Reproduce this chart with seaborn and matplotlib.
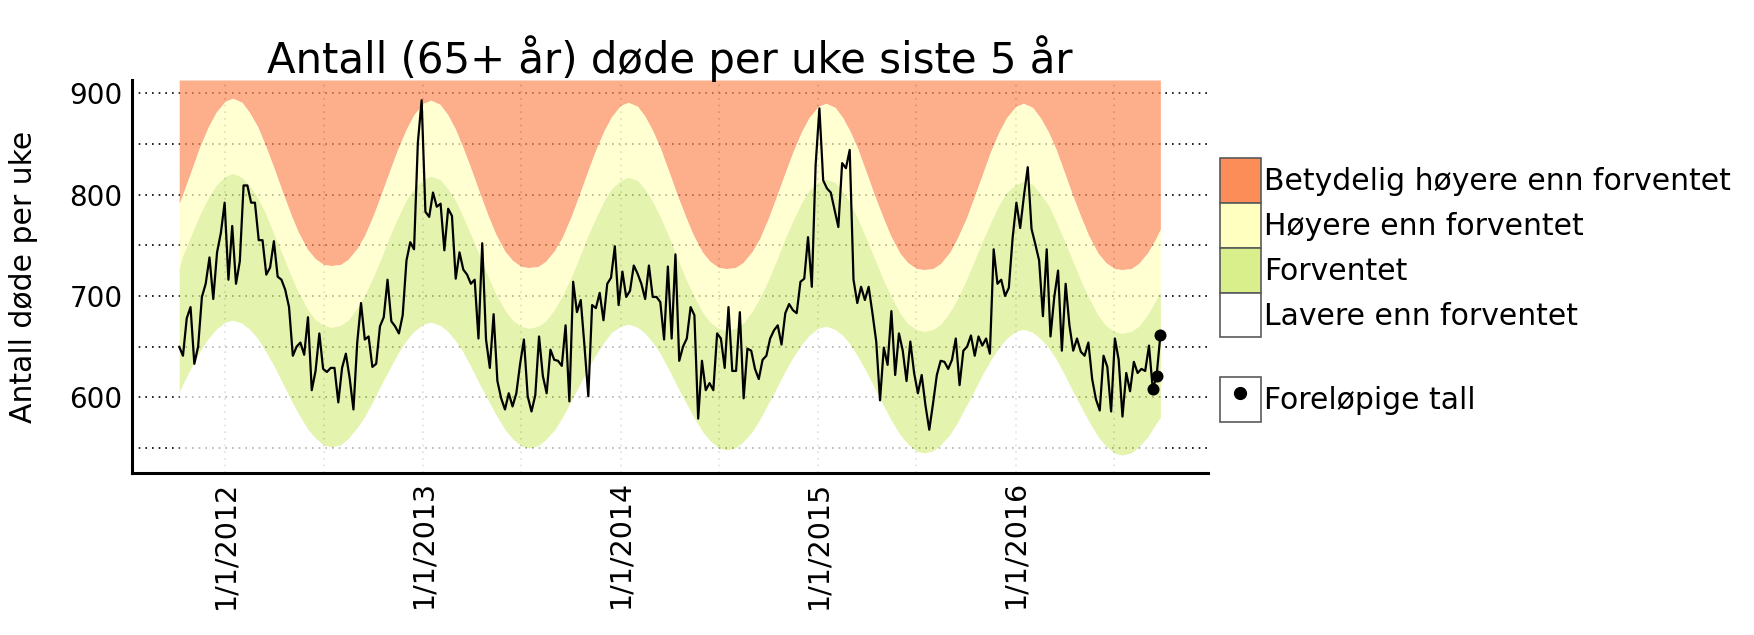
import pandas as pd
import matplotlib
matplotlib.use("Agg")
import matplotlib.pyplot as plt
import matplotlib.dates as mdates
from matplotlib.ticker import MultipleLocator, FuncFormatter, NullFormatter
from matplotlib.patches import Patch
from matplotlib.lines import Line2D
import seaborn as sns

# weekly deaths, age 65+ (first week 2011-10-08)
FIRST_WEEK = "2011-10-08"
deaths = [
    650, 641, 678, 689, 633, 650, 699, 712, 738, 697, 743, 762, 792, 716, 769, 712,
    734, 809, 809, 792, 792, 755, 755, 721, 728, 754, 719, 716, 706, 689, 641, 650,
    654, 642, 679, 607, 626, 663, 628, 625, 629, 629, 595, 629, 643, 619, 588, 654,
    693, 657, 660, 630, 633, 670, 679, 716, 675, 670, 663, 681, 735, 753, 746, 851,
    893, 783, 778, 802, 788, 791, 745, 786, 779, 717, 743, 726, 721, 712, 716, 658,
    752, 657, 629, 682, 616, 599, 588, 604, 591, 604, 633, 657, 601, 586, 602, 660,
    621, 604, 647, 637, 636, 631, 671, 596, 714, 684, 696, 650,
    601, 691, 688, 703, 676, 712, 718, 749, 691, 724, 699, 705, 730, 722, 712, 697,
    730, 699, 699, 694, 657, 729, 658, 741, 636, 650, 658, 689, 681, 579, 636, 607,
    614, 607, 663, 658, 629, 689, 626, 626, 684, 599, 648, 646, 628, 618, 637, 641,
    658, 666, 671, 652, 683, 692, 686, 683, 714, 717, 758, 709,
    829, 885, 814, 806, 802, 785, 768, 831, 826, 844, 716, 693, 709, 696, 709, 683,
    655, 597, 649, 632, 685, 622, 663, 646, 616, 655, 624, 604, 622, 592, 568, 594,
    622, 636, 635, 628, 637, 658, 612, 646, 650, 661, 641, 660, 651, 658, 643, 746,
    712, 716, 700, 708, 757, 792, 767, 799, 827,
    766, 751, 735, 680, 746, 660, 699, 725, 646, 712, 671, 646, 658, 645, 641, 654,
    618, 598, 587, 641, 630, 586, 658, 637, 581, 624, 606, 635, 624, 628, 626, 651,
    608, 621, 661,
]
N_PRELIM = 3  # last weeks are preliminary

# band limits: first week, the 1st and 15th of every month, last week
BAND_START = "2011-10-08"
BAND_END = "2016-09-24"
band_upper = [
    791, 801, 826, 847, 867, 881,
    892, 895, 891, 881, 867, 849, 825, 804, 781, 763, 746, 737, 731, 730, 731, 736, 747, 760, 780, 800, 825, 845, 865, 879,
    890, 893, 889, 879, 865, 847, 823, 802, 779, 761, 744, 735, 729, 728, 729, 734, 745, 758, 778, 798, 823, 843, 863, 877,
    888, 891, 887, 877, 863, 846, 821, 800, 778, 760, 743, 734, 728, 727, 728, 733, 744, 757, 777, 797, 822, 842, 862, 876,
    887, 890, 886, 876, 862, 845, 820, 799, 777, 759, 742, 733, 727, 726, 727, 732, 743, 757, 776, 796, 821, 842, 862, 876,
    887, 890, 886, 876, 862, 845, 820, 799, 777, 759, 742, 733, 727, 726, 727, 732, 743, 756,
    766,
]
band_mid = [
    727, 740, 762, 780, 797, 809,
    818, 821, 817, 809, 797, 782, 760, 742, 721, 704, 687, 677, 671, 669, 671, 676, 688, 701, 719, 737, 760, 777, 795, 806,
    815, 818, 815, 806, 795, 779, 758, 740, 719, 702, 686, 676, 670, 668, 670, 675, 687, 700, 718, 736, 759, 776, 794, 806,
    814, 817, 814, 805, 793, 778, 757, 738, 717, 701, 684, 674, 668, 666, 668, 673, 685, 698, 716, 734, 757, 774, 792, 804,
    812, 815, 812, 803, 792, 776, 755, 737, 716, 700, 683, 673, 667, 665, 667, 672, 684, 697, 715, 733, 755, 772, 790, 802,
    810, 813, 810, 801, 790, 774, 753, 735, 714, 698, 681, 671, 665, 663, 665, 670, 682, 695,
    704,
]
band_low = [
    605, 613, 631, 645, 658, 667,
    674, 676, 673, 667, 658, 646, 630, 615, 598, 584, 569, 560, 553, 551, 553, 559, 570, 581, 597, 612, 629, 643, 656, 665,
    672, 674, 671, 665, 656, 645, 628, 613, 597, 583, 568, 559, 552, 550, 552, 558, 568, 580, 596, 610, 628, 641, 654, 664,
    670, 672, 669, 663, 654, 643, 626, 611, 595, 581, 566, 557, 550, 548, 550, 556, 566, 578, 594, 608, 626, 639, 652, 661,
    668, 670, 667, 661, 652, 640, 624, 609, 592, 578, 563, 554, 547, 545, 547, 553, 563, 575, 591, 605, 623, 636, 649, 658,
    665, 667, 664, 658, 649, 638, 621, 606, 590, 576, 561, 552, 545, 543, 545, 551, 561, 573,
    580,
]

band_labels = ["Betydelig høyere enn forventet", "Høyere enn forventet",
               "Forventet", "Lavere enn forventet"]
band_colors = ["#fc8d59", "#ffffbf", "#d9ef8b", "#ffffff"]
Y_MIN, Y_MAX = 525, 913

week_dates = pd.date_range(FIRST_WEEK, periods=len(deaths), freq="7D")
df = pd.DataFrame({"uke": week_dates, "dode": deaths})

band_dates = (pd.DatetimeIndex([BAND_START])
              .append(pd.date_range("2011-10-15", "2016-09-15", freq="SMS"))
              .append(pd.DatetimeIndex([BAND_END])))

sns.set_style("white")
plt.rcParams["font.family"] = ["DejaVu Sans"]
plt.rcParams["text.color"] = "black"
plt.rcParams["axes.labelcolor"] = "black"
plt.rcParams["xtick.color"] = "black"
plt.rcParams["ytick.color"] = "black"

fig = plt.figure(figsize=(17.54, 6.35), dpi=100)
ax = fig.add_axes([0.075, 0.2546, 0.6137, 0.6194])

# shaded bands, drawn over the grid
ax.fill_between(band_dates, band_upper, Y_MAX, color=band_colors[0], alpha=0.7, lw=0)
ax.fill_between(band_dates, band_mid, band_upper, color=band_colors[1], alpha=0.7, lw=0)
ax.fill_between(band_dates, band_low, band_mid, color=band_colors[2], alpha=0.7, lw=0)
ax.fill_between(band_dates, Y_MIN, band_low, color=band_colors[3], alpha=0.7, lw=0)

sns.lineplot(data=df, x="uke", y="dode", color="black", linewidth=1.6, ax=ax, zorder=3)
sns.scatterplot(data=df.tail(N_PRELIM), x="uke", y="dode", color="black", s=75,
                linewidth=0, ax=ax, zorder=4)

ax.set_xlim(pd.Timestamp("2011-07-12"), pd.Timestamp("2016-12-21"))
ax.set_ylim(Y_MIN, Y_MAX)

ax.xaxis.set_major_locator(mdates.YearLocator())
ax.xaxis.set_minor_locator(mdates.MonthLocator(bymonth=7))
ax.xaxis.set_major_formatter(FuncFormatter(
    lambda v, pos: "{d.month}/{d.day}/{d.year}".format(d=mdates.num2date(v))))
ax.xaxis.set_minor_formatter(NullFormatter())
ax.yaxis.set_major_locator(MultipleLocator(100))
ax.yaxis.set_minor_locator(MultipleLocator(50))

ax.set_axisbelow(True)
ax.yaxis.grid(True, which="both", color="black", linestyle=(0, (1, 3)), linewidth=1.2)
ax.xaxis.grid(True, which="both", color="#9a9a9a", linestyle=(0, (1, 3)), linewidth=1.2)

ax.tick_params(axis="both", which="both", length=0)
ax.tick_params(axis="x", labelsize=20.5, labelrotation=90, pad=5)
ax.tick_params(axis="y", labelsize=20, pad=6.5)

for side in ["top", "right"]:
    ax.spines[side].set_visible(False)
for side in ["left", "bottom"]:
    ax.spines[side].set_linewidth(2.2)
    ax.spines[side].set_color("black")

ax.set_xlabel("")
ax.set_ylabel("Antall døde per uke", fontsize=21.5)
ax.yaxis.set_label_coords(-0.087, 0.5)
ax.set_title("Antall (65+ år) døde per uke siste 5 år", fontsize=30.2, pad=4.8)

# legends outside on the right
edge = "#5a5a5a"
band_handles = [Patch(facecolor=c, edgecolor=edge, linewidth=1.2) for c in band_colors]
leg_kw = dict(loc="upper left", frameon=False, fontsize=21.5, handlelength=1.37,
              handleheight=1.93, labelspacing=0, handletextpad=0.1,
              borderpad=0, borderaxespad=0)
leg1 = ax.legend(band_handles, band_labels, bbox_to_anchor=(1.011, 0.801), **leg_kw)
ax.add_artist(leg1)
prelim_handle = (Patch(facecolor="white", edgecolor=edge, linewidth=1.2),
                 Line2D([], [], marker="o", color="black", linestyle="", markersize=8.5))
ax.legend([prelim_handle], ["Foreløpige tall"], bbox_to_anchor=(1.011, 0.245), **leg_kw)

fig.savefig("out.png", dpi=100)
